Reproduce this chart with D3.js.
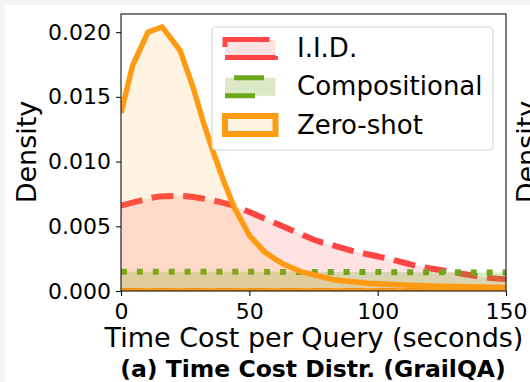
<!DOCTYPE html>
<html>
<head>
<style>
	body { margin: 0; background: #fff; }
	text { font-family: "DejaVu Sans", sans-serif; }
</style>
<script src="https://d3js.org/d3.v7.min.js"></script>
</head>
<body>
<div id="chart"></div>
<script>
	// values
	const xTicks = [0, 50, 100, 150];
	const yTicks = [0, 0.005, 0.010, 0.015, 0.020];
	const seriesNames = ["I.I.D.", "Compositional", "Zero-shot"];

	const iidX = [0, 8, 15, 22, 30, 38, 45, 50, 57, 63, 70, 76, 83, 90, 97, 104, 110, 116, 122, 128, 134, 140, 150];
	const iidY = [0.0066, 0.0070, 0.0073, 0.00735, 0.0072, 0.0069, 0.0065, 0.0061, 0.0055, 0.0050, 0.0044, 0.0039,
		0.0035, 0.0031, 0.0028, 0.0025, 0.0022, 0.0019, 0.0017, 0.0015, 0.0013, 0.0011, 0.0009];

	const compX = [0, 50, 100, 150];
	const compY = [0.00148, 0.00148, 0.00146, 0.00143];

	const zeroX = [0, 4.5, 10.5, 16, 23, 28, 32, 36, 40, 44, 50, 56, 63, 70, 83, 96, 110, 125, 150];
	const zeroY = [0.01375, 0.0174, 0.0200, 0.0204, 0.0186, 0.0158, 0.0131, 0.0107, 0.0085, 0.0065, 0.0043,
		0.0030, 0.0021, 0.0015, 0.00087, 0.0006, 0.00046, 0.00036, 0.00028];

	const width = 530, height = 382;
	const plotLeft = 121, plotRight = 506, plotTop = 14, plotBottom = 291;

	var svg = d3.select("#chart").append("svg")
		.attr("width", width)
		.attr("height", height);

	// light grey strip on the top and left edge of the picture
	svg.append("rect").attr("width", width).attr("height", height).attr("fill", "#f4f4f2");
	svg.append("rect").attr("x", 5).attr("y", 5).attr("width", width).attr("height", height).attr("fill", "#fff");

	var x = d3.scaleLinear().domain([0, 150]).range([plotLeft, plotRight]);
	var y = d3.scaleLinear().domain([0, 0.0214]).range([plotBottom, plotTop]);

	svg.append("clipPath").attr("id", "plot")
		.append("rect")
		.attr("x", plotLeft).attr("y", plotTop)
		.attr("width", plotRight - plotLeft).attr("height", plotBottom - plotTop);

	var series = [
		{ name: seriesNames[0], xs: iidX, ys: iidY, color: "#ff4545", fill: 0.15, dash: "22 9.6", lw: 6, curve: d3.curveMonotoneX },
		{ name: seriesNames[1], xs: compX, ys: compY, color: "#6ea81c", fill: 0.25, dash: "6 9.9", lw: 6, curve: d3.curveLinear },
		{ name: seriesNames[2], xs: zeroX, ys: zeroY, color: "#ff9a13", fill: 0.12, dash: null, lw: 5.5, curve: d3.curveLinear }
	];

	var g = svg.append("g").attr("clip-path", "url(#plot)");

	series.forEach(function(s) {
		var pts = s.xs.map(function(v, i) { return [v, s.ys[i]]; });
		var area = d3.area()
			.x(function(d) { return x(d[0]); })
			.y0(y(0))
			.y1(function(d) { return y(d[1]); })
			.curve(s.curve);
		var line = d3.line()
			.x(function(d) { return x(d[0]); })
			.y(function(d) { return y(d[1]); })
			.curve(s.curve);
		g.append("path")
			.attr("d", area(pts))
			.attr("fill", s.color)
			.attr("fill-opacity", s.fill);
		// edge of the filled shape: curve on top, base along zero
		g.append("path")
			.attr("d", line(pts))
			.attr("fill", "none")
			.attr("stroke", s.color)
			.attr("stroke-width", s.lw)
			.attr("stroke-dasharray", s.dash);
		g.append("path")
			.attr("d", line([[0, 0], [150, 0]]))
			.attr("fill", "none")
			.attr("stroke", s.color)
			.attr("stroke-width", s.lw)
			.attr("stroke-dasharray", s.dash);
	});

	// frame
	svg.append("rect")
		.attr("x", plotLeft).attr("y", plotTop)
		.attr("width", plotRight - plotLeft).attr("height", plotBottom - plotTop)
		.attr("fill", "none")
		.attr("stroke", "#111")
		.attr("stroke-width", 1.1);

	var xAxis = svg.append("g")
		.attr("transform", "translate(0," + plotBottom + ")")
		.call(d3.axisBottom(x).tickValues(xTicks).tickSize(5).tickPadding(7).tickFormat(d3.format("d")));
	var yAxis = svg.append("g")
		.attr("transform", "translate(" + plotLeft + ",0)")
		.call(d3.axisLeft(y).tickValues(yTicks).tickSize(5).tickPadding(5).tickFormat(d3.format(".3f")));
	[xAxis, yAxis].forEach(function(a) {
		a.select(".domain").remove();
		a.selectAll("line").attr("stroke", "#111").attr("stroke-width", 1.1);
		a.selectAll("text")
			.attr("fill", "#000")
			.style("font-family", "DejaVu Sans")
			.style("font-size", "22px");
	});

	// axis titles
	svg.append("text")
		.attr("x", 314).attr("y", 347)
		.attr("text-anchor", "middle")
		.style("font-size", "27px")
		.text("Time Cost per Query (seconds)");
	svg.append("text")
		.attr("transform", "translate(36,152) rotate(-90)")
		.attr("text-anchor", "middle")
		.style("font-size", "27px")
		.text("Density");
	// neighbouring panel label, cut by the picture edge as in the reference
	svg.append("text")
		.attr("transform", "translate(536,152) rotate(-90)")
		.attr("text-anchor", "middle")
		.style("font-size", "27px")
		.text("Density");
	svg.append("text")
		.attr("x", 313).attr("y", 376.5)
		.attr("text-anchor", "middle")
		.style("font-size", "23.5px")
		.style("font-weight", "bold")
		.text("(a) Time Cost Distr. (GrailQA)");

	// legend
	var legend = svg.append("g");
	legend.append("rect")
		.attr("x", 212).attr("y", 27)
		.attr("width", 281).attr("height", 123)
		.attr("rx", 4)
		.attr("fill", "#fff").attr("fill-opacity", 0.8)
		.attr("stroke", "#d6d6d6").attr("stroke-width", 1.2);

	var handleDash = ["52 22.5", "30 50", null];
	series.forEach(function(s, i) {
		var cy = 48.5 + i * 38.3;
		var x0 = 225, x1 = 275.5, y0 = cy - 9, y1 = cy + 9;
		legend.append("rect")
			.attr("x", x0).attr("y", y0)
			.attr("width", x1 - x0).attr("height", y1 - y0)
			.attr("fill", s.color).attr("fill-opacity", s.fill);
		legend.append("path")
			.attr("d", "M" + x0 + "," + y1 + "L" + x1 + "," + y1 + "L" + x1 + "," + y0 + "L" + x0 + "," + y0 + "Z")
			.attr("fill", "none")
			.attr("stroke", s.color)
			.attr("stroke-width", i == 2 ? 6 : 5)
			.attr("stroke-dasharray", handleDash[i]);
		legend.append("text")
			.attr("x", 297).attr("y", cy + 8.5)
			.style("font-size", "26px")
			.text(s.name);
	});
</script>
</body>
</html>
